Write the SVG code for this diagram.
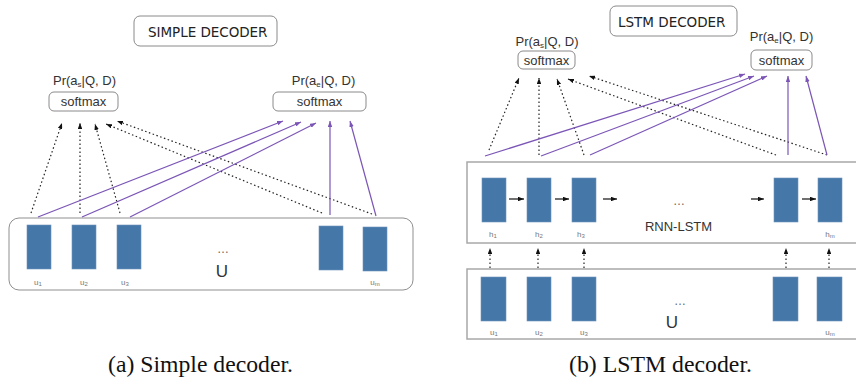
<svg xmlns="http://www.w3.org/2000/svg" width="856" height="379" viewBox="0 0 856 379">
<style>
.bg{fill:#ffffff}
.tbox{fill:#fff;stroke:#8a8a8a;stroke-width:1}
.title{font-family:"DejaVu Sans","Liberation Sans",sans-serif;font-size:13.5px;fill:#222;letter-spacing:1.5px}
.lbl{font-family:"Liberation Sans",Arial,sans-serif;font-size:13px;fill:#333}
.sub{font-size:8px}
.cell{fill:#4677a9;stroke:#6d93bb;stroke-width:0.6}
.box{fill:none;stroke:#8f8f8f;stroke-width:1}
.sbox{fill:none;stroke:#a8a8a8;stroke-width:1.5}
.small{font-family:"Liberation Sans",Arial,sans-serif;font-size:8px;fill:#777}
.dots{font-family:"Liberation Sans",Arial,sans-serif;font-size:12px;fill:#666}
.big{font-family:"Liberation Sans",Arial,sans-serif;font-size:17px;fill:#333}
.cap{font-family:"Liberation Serif","Times New Roman",serif;font-size:23px;fill:#111}
.dot{fill:none;stroke:#222;stroke-width:1.2;stroke-dasharray:1.5 2.5;marker-end:url(#ab)}
.pur{fill:none;stroke:#7b56b6;stroke-width:1.2;marker-end:url(#ap)}
.sol{fill:none;stroke:#111;stroke-width:1.2;marker-end:url(#ab)}
</style>
<defs>
<marker id="ab" viewBox="0 0 8 6" refX="8" refY="3" markerWidth="6" markerHeight="4.5" markerUnits="userSpaceOnUse" orient="auto"><path d="M0,0 L8,3 L0,6 z" fill="#111"/></marker>
<marker id="ap" viewBox="0 0 8 6" refX="8" refY="3" markerWidth="6" markerHeight="4.5" markerUnits="userSpaceOnUse" orient="auto"><path d="M0,0 L8,3 L0,6 z" fill="#7b56b6"/></marker>
</defs>
<rect class="bg" x="0" y="0" width="856" height="379"/>

<!-- ===== (a) Simple decoder ===== -->
<g id="title-simple">
<rect class="tbox" x="134" y="16" width="143" height="30" rx="6"/>
<text class="title" x="148" y="37" textLength="121" lengthAdjust="spacing">SIMPLE DECODER</text>
</g>
<g id="a-softmax-s">
<text class="lbl" x="84.5" y="85" text-anchor="middle">Pr(a<tspan class="sub" dy="2">s</tspan><tspan dy="-2">|Q, D)</tspan></text>
<rect class="tbox" x="49" y="92" width="69" height="19" rx="5"/>
<text class="lbl" x="83.5" y="106" text-anchor="middle">softmax</text>
</g>
<g id="a-softmax-e">
<text class="lbl" x="323.5" y="85" text-anchor="middle">Pr(a<tspan class="sub" dy="2">e</tspan><tspan dy="-2">|Q, D)</tspan></text>
<rect class="tbox" x="273" y="92" width="93" height="19" rx="5"/>
<text class="lbl" x="319.5" y="106" text-anchor="middle">softmax</text>
</g>
<g id="a-U">
<rect class="box" x="9" y="218" width="404" height="72" rx="10"/>
<rect class="cell" x="27" y="225" width="24" height="44"/>
<rect class="cell" x="72" y="225" width="24" height="44"/>
<rect class="cell" x="117" y="225" width="24" height="44"/>
<rect class="cell" x="319" y="226" width="24" height="44"/>
<rect class="cell" x="363" y="227" width="24" height="44"/>
<text class="small" x="38" y="285" text-anchor="middle">u<tspan font-size="6" dy="1">1</tspan></text>
<text class="small" x="84" y="285" text-anchor="middle">u<tspan font-size="6" dy="1">2</tspan></text>
<text class="small" x="125" y="285" text-anchor="middle">u<tspan font-size="6" dy="1">3</tspan></text>
<text class="small" x="375" y="285" text-anchor="middle">u<tspan font-size="6" dy="1">m</tspan></text>
<text class="dots" x="223" y="253" text-anchor="middle">…</text>
<text class="big" x="222" y="277" text-anchor="middle">U</text>
</g>
<g id="a-connectors">
<line class="dot" x1="31" y1="213" x2="62" y2="123"/>
<line class="dot" x1="80" y1="213" x2="80" y2="123"/>
<line class="dot" x1="120" y1="213" x2="95" y2="124"/>
<line class="dot" x1="322" y1="213" x2="106" y2="124"/>
<line class="dot" x1="372" y1="214" x2="117" y2="121"/>
<line class="pur" x1="38" y1="217" x2="283" y2="121"/>
<line class="pur" x1="82" y1="217" x2="301" y2="122"/>
<line class="pur" x1="130" y1="217" x2="316" y2="123"/>
<line class="pur" x1="330" y1="215" x2="330" y2="121"/>
<line class="pur" x1="376" y1="216" x2="350" y2="121"/>
</g>
<text class="cap" x="108" y="372" textLength="185" lengthAdjust="spacingAndGlyphs">(a) Simple decoder.</text>

<!-- ===== (b) LSTM decoder ===== -->
<g id="title-lstm">
<rect class="tbox" x="610" y="6" width="127" height="30" rx="6"/>
<text class="title" x="618" y="27" textLength="109" lengthAdjust="spacing">LSTM DECODER</text>
</g>
<g id="b-softmax-s">
<text class="lbl" x="547" y="46" text-anchor="middle">Pr(a<tspan class="sub" dy="2">s</tspan><tspan dy="-2">|Q, D)</tspan></text>
<rect class="tbox" x="518" y="51" width="57" height="18" rx="5"/>
<text class="lbl" x="546.5" y="65" text-anchor="middle">softmax</text>
</g>
<g id="b-softmax-e">
<text class="lbl" x="781.5" y="41" text-anchor="middle">Pr(a<tspan class="sub" dy="2">e</tspan><tspan dy="-2">|Q, D)</tspan></text>
<rect class="tbox" x="751" y="50" width="61" height="20" rx="5"/>
<text class="lbl" x="781.5" y="65" text-anchor="middle">softmax</text>
</g>
<g id="b-rnn">
<rect class="sbox" x="467" y="162" width="400" height="81"/>
<rect class="cell" x="482" y="178" width="24" height="44"/>
<rect class="cell" x="527" y="178" width="24" height="44"/>
<rect class="cell" x="572" y="178" width="24" height="44"/>
<rect class="cell" x="774" y="178" width="24" height="44"/>
<rect class="cell" x="818" y="178" width="24" height="44"/>
<text class="small" x="493" y="237" text-anchor="middle">h<tspan font-size="6" dy="1">1</tspan></text>
<text class="small" x="539" y="237" text-anchor="middle">h<tspan font-size="6" dy="1">2</tspan></text>
<text class="small" x="581" y="237" text-anchor="middle">h<tspan font-size="6" dy="1">3</tspan></text>
<text class="small" x="830" y="237" text-anchor="middle">h<tspan font-size="6" dy="1">m</tspan></text>
<text class="dots" x="679" y="205" text-anchor="middle">…</text>
<text class="lbl" x="678.5" y="231" text-anchor="middle">RNN-LSTM</text>
</g>
<g id="b-U">
<rect class="sbox" x="467" y="269" width="400" height="70"/>
<rect class="cell" x="481" y="277" width="25" height="44"/>
<rect class="cell" x="527" y="277" width="24" height="44"/>
<rect class="cell" x="572" y="277" width="24" height="44"/>
<rect class="cell" x="773" y="277" width="25" height="44"/>
<rect class="cell" x="817" y="277" width="25" height="44"/>
<text class="small" x="494" y="335" text-anchor="middle">u<tspan font-size="6" dy="1">1</tspan></text>
<text class="small" x="539" y="335" text-anchor="middle">u<tspan font-size="6" dy="1">2</tspan></text>
<text class="small" x="584" y="335" text-anchor="middle">u<tspan font-size="6" dy="1">3</tspan></text>
<text class="small" x="830" y="335" text-anchor="middle">u<tspan font-size="6" dy="1">m</tspan></text>
<text class="dots" x="680" y="305" text-anchor="middle">…</text>
<text class="big" x="672" y="328" text-anchor="middle">U</text>
</g>
<g id="b-connectors">
<line class="sol" x1="509" y1="199" x2="524" y2="199"/>
<line class="sol" x1="555" y1="199" x2="569" y2="199"/>
<line class="sol" x1="603" y1="199" x2="617" y2="199"/>
<line class="sol" x1="751" y1="199" x2="764" y2="199"/>
<line class="sol" x1="802" y1="199" x2="816" y2="199"/>
<line class="dot" x1="490" y1="268" x2="490" y2="248"/>
<line class="dot" x1="538" y1="268" x2="538" y2="248"/>
<line class="dot" x1="584" y1="268" x2="584" y2="248"/>
<line class="dot" x1="786" y1="268" x2="786" y2="248"/>
<line class="dot" x1="829" y1="268" x2="829" y2="248"/>
<line class="dot" x1="489" y1="150" x2="519" y2="78"/>
<line class="dot" x1="539" y1="155" x2="539" y2="78"/>
<line class="dot" x1="584" y1="155" x2="557" y2="79"/>
<line class="dot" x1="776" y1="155" x2="568" y2="79"/>
<line class="dot" x1="827" y1="155" x2="589" y2="76"/>
<line class="pur" x1="485" y1="156" x2="745" y2="74"/>
<line class="pur" x1="541" y1="156" x2="754" y2="76"/>
<line class="pur" x1="590" y1="155" x2="767" y2="76"/>
<line class="pur" x1="788" y1="155" x2="788" y2="76"/>
<line class="pur" x1="827" y1="155" x2="806" y2="76"/>
</g>
<text class="cap" x="569" y="372" textLength="183" lengthAdjust="spacingAndGlyphs">(b) LSTM decoder.</text>
</svg>
